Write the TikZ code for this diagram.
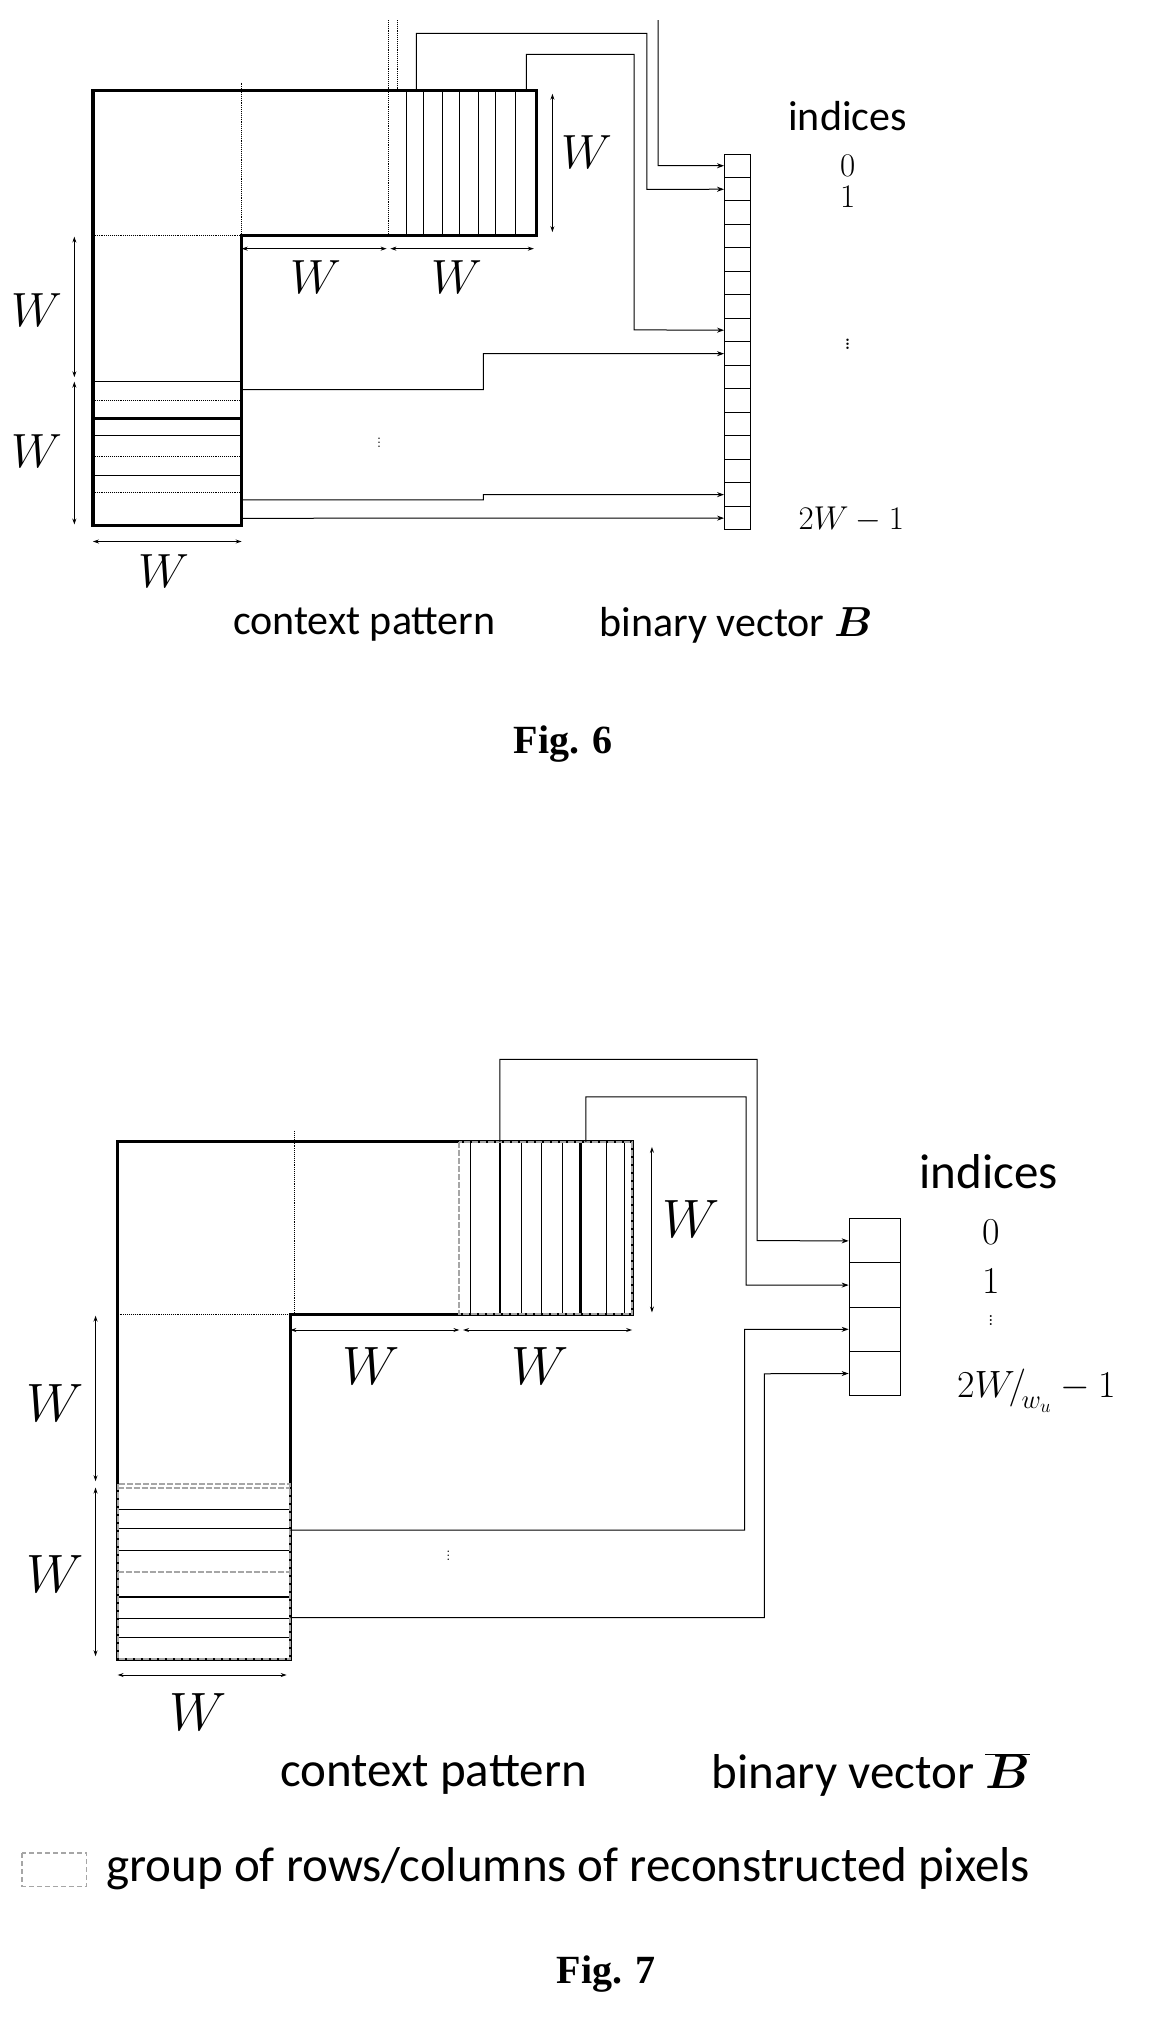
\RequirePackage{fix-cm}
\documentclass[tikz,border=0pt]{standalone}
\usepackage{bm}
\usepackage{fontspec}
\setsansfont{Carlito}
\newfontfamily\figfont{Liberation Serif}
\usetikzlibrary{arrows.meta}
\begin{document}
\begin{tikzpicture}[x=1pt,y=-1pt,
  outl/.style={line width=3.2pt},
  thin/.style={line width=1pt},
  dot/.style={line width=0.9pt,densely dotted},
  grp/.style={line width=2pt,gray!70,dash pattern=on 6pt off 2pt},
  conn/.style={line width=1pt,-{Stealth[length=7pt,width=5pt]}},
  dim/.style={line width=1pt,{Stealth[length=6pt,width=4pt]}-{Stealth[length=6pt,width=4pt]}},
  lab/.style={font=\sffamily\fontsize{42}{46}\selectfont},
  labb/.style={font=\sffamily\fontsize{49}{52}\selectfont},
  wlab/.style={font=\fontsize{48}{52}\selectfont},
  wlabb/.style={font=\fontsize{54}{58}\selectfont},
  num/.style={font=\fontsize{33}{36}\selectfont},
  numb/.style={font=\fontsize{38}{42}\selectfont}]
\path[use as bounding box] (0,0) rectangle (1152,2023);
% ================= Fig. 6 =================
\begin{scope}[x=0.7435pt,y=-0.4464pt]
\draw[outl] (125,203) -- (722,203) -- (722,527) -- (325,527) -- (325,1178) -- (125,1178) -- cycle;
\draw[dot] (325,185) -- (325,527);
\draw[dot] (125,527) -- (325,527);
\draw[dot] (522,45) -- (522,527);
\foreach \x in {547,570,595,618,643,667,693} \draw[thin] (\x,203) -- (\x,527);
\draw[dot] (535,45) -- (535,203);
\foreach \y/\s in {855/thin,897/dot,975/thin,1022/dot,1065/thin,1103/dot} \draw[\s] (125,\y) -- (325,\y);
\draw[line width=2.5pt] (125,937) -- (325,937);
\foreach \i in {0,...,15} \node[draw,line width=1pt,minimum width=26pt,minimum height=23.5pt,inner sep=0pt] (v\i) at (992,{345+52.625*(\i+0.5)}) {};
\draw[conn] (885,45) -- (885,371) -- (v0.west);
\draw[conn] (560,203) -- (560,75) -- (870,75) -- (870,424) -- (v1.west);
\draw[conn] (708,203) -- (708,122) -- (853,122) -- (853,739) -- (v7.west);
\draw[conn] (325,873) -- (650,873) -- (650,792) -- (v8.west);
\draw[conn] (325,1120) -- (650,1120) -- (650,1108) -- (v14.west);
\draw[conn] (325,1161) -- (v15.west);
\draw[dim] (743,210) -- (743,520); \node[wlab] at (790,340) {$W$};
\draw[dim] (325,557) -- (520,557); \node[wlab] at (425,620) {$W$};
\draw[dim] (525,557) -- (718,557); \node[wlab] at (615,620) {$W$};
\draw[dim] (100,530) -- (100,845); \node[wlab] at (50,695) {$W$};
\draw[dim] (100,855) -- (100,1175); \node[wlab] at (50,1010) {$W$};
\draw[dim] (125,1213) -- (325,1213); \node[wlab] at (220,1280) {$W$};
\node[font=\fontsize{18}{18}\selectfont] at (510,985) {$\vdots$};
\node[font=\fontsize{30}{30}\selectfont] at (1140,765) {$\vdots$};
\node[lab] at (1140,260) {indices};
\node[num] at (1140,372) {$0$};
\node[num] at (1140,440) {$1$};
\node[num] at (1145,1165) {$2W-1$};
\node[lab] at (490,1400) {context pattern};
\node[lab] at (990,1400) {binary vector $\bm{B}$};
\end{scope}
\node[font=\figfont\bfseries\fontsize{40}{44}\selectfont] at (563,744) {Fig. 6};
% ================= Fig. 7 =================
\begin{scope}[x=0.735pt,y=-0.625pt,yshift=-1050pt]
\draw[outl] (160,147) -- (860,147) -- (860,423) -- (395,423) -- (395,975) -- (160,975) -- cycle;
\draw[dot] (400,130) -- (400,423);
\draw[dot] (160,423) -- (395,423);
\foreach \x in {640,710,737,765,825,850} \draw[thin] (\x,147) -- (\x,423);
\draw[line width=2.5pt] (680,147) -- (680,423);
\draw[line width=2.5pt] (790,147) -- (790,423);
\foreach \y in {735,765,800,910,940} \draw[thin] (160,\y) -- (395,\y);
\draw[line width=2.5pt] (160,875) -- (395,875);
\draw[grp] (160,700) -- (395,700);
\draw[grp] (160,835) -- (395,835);
\draw[grp] (625,147) rectangle (860,423);
\draw[grp] (160,695) rectangle (395,975);
\foreach \i in {0,...,3} \node[draw,line width=1pt,minimum width=51pt,minimum height=44.2pt,inner sep=0pt] (u\i) at (1190,{270+70.75*(\i+0.5)}) {};
\draw[conn] (680,147) -- (680,15) -- (1030,15) -- (1030,305) -- (u0.west);
\draw[conn] (797,147) -- (797,75) -- (1015,75) -- (1015,376) -- (u1.west);
\draw[conn] (395,768) -- (1013,768) -- (1013,447) -- (u2.west);
\draw[conn] (395,908) -- (1040,908) -- (1040,518) -- (u3.west);
\draw[dim] (887,155) -- (887,420); \node[wlabb] at (940,270) {$W$};
\draw[dim] (395,448) -- (625,448); \node[wlabb] at (505,505) {$W$};
\draw[dim] (630,448) -- (860,448); \node[wlabb] at (735,505) {$W$};
\draw[dim] (130,425) -- (130,690); \node[wlabb] at (75,565) {$W$};
\draw[dim] (130,700) -- (130,970); \node[wlabb] at (75,838) {$W$};
\draw[dim] (160,1000) -- (390,1000); \node[wlabb] at (270,1060) {$W$};
\node[font=\fontsize{18}{18}\selectfont] at (610,805) {$\vdots$};
\node[font=\fontsize{24}{24}\selectfont] at (1348,428) {$\vdots$};
\node[labb] at (1345,195) {indices};
\node[numb] at (1348,292) {$0$};
\node[numb] at (1348,370) {$1$};
\node[numb] at (1410,545) {$2W\!\big/_{\!w_u}-1$};
\node[labb] at (590,1160) {context pattern};
\node[labb] at (1185,1160) {binary vector $\overline{\bm{B}}$};
\draw[grp,line width=1.5pt,dash pattern=on 5pt off 3pt] (30,1285) rectangle (118,1338);
\node[labb,anchor=west] at (140,1310) {group of rows/columns of reconstructed pixels};
\node[font=\figfont\bfseries\fontsize{40}{44}\selectfont] at (825,1478) {Fig. 7};
\end{scope}
\end{tikzpicture}
\end{document}
